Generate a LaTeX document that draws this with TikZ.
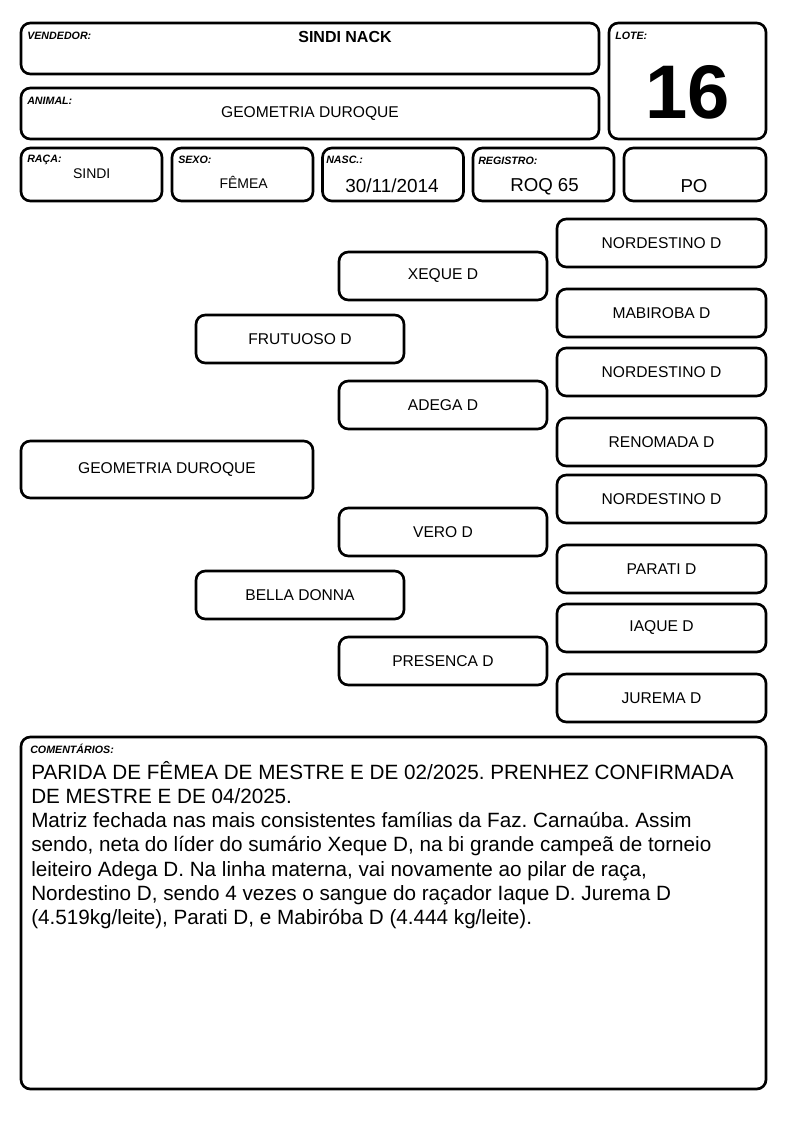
\documentclass[tikz,border=0pt]{standalone}
\usepackage{fontspec}
\setmainfont{Liberation Sans}
\frenchspacing

\tikzset{
  card/.style={draw, line width=2pt, rounded corners=7pt, inner sep=0pt},
  lbl/.style={font=\fontsize{8}{9}\selectfont\bfseries\itshape, anchor=base west, inner sep=0pt},
  val/.style={anchor=base, inner sep=0pt},
  ped/.style={card, minimum width=156pt, minimum height=36pt, font=\fontsize{11.7}{13}\selectfont},
}

\begin{document}
\begin{tikzpicture}[%
      x=0.75pt, y=-0.75pt,
      ]
      \useasboundingbox (0,0) rectangle (794,1123);

      \node [card, minimum width=433.5pt, minimum height=38.25pt] (vendedor) at (310,48.5) {};
      \node [card, minimum width=433.5pt, minimum height=38.25pt, font=\fontsize{11.7}{13}\selectfont] (animal) at (310,113.5) {GEOMETRIA DUROQUE};
      \node [card, minimum width=117.75pt, minimum height=87pt] (lote) at (687.5,81) {};
      \node [card, minimum width=105.75pt, minimum height=39.75pt] (raca) at (91.5,174.5) {};
      \node [card, minimum width=105.75pt, minimum height=39.75pt] (sexo) at (242.5,174.5) {};
      \node [card, minimum width=105.75pt, minimum height=39.75pt] (nasc) at (393,174.5) {};
      \node [card, minimum width=105.75pt, minimum height=39.75pt] (registro) at (543.5,174.5) {};
      \node [card, minimum width=106.5pt, minimum height=39.75pt] (po) at (695,174.5) {};

      \node [lbl] (lvendedor) at (27,40) {VENDEDOR:};
      \node [lbl] (lanimal) at (27,105) {ANIMAL:};
      \node [lbl] (llote) at (615,40) {LOTE:};
      \node [lbl] (lraca) at (27,163) {RAÇA:};
      \node [lbl] (lsexo) at (178,164) {SEXO:};
      \node [lbl] (lnasc) at (326,164) {NASC.:};
      \node [lbl] (lregistro) at (478,165) {REGISTRO:};

      \node [val, font=\fontsize{12}{14}\selectfont\bfseries] (vvendedor) at (345,42.7) {SINDI NACK};
      \node [val, font=\fontsize{57}{60}\selectfont\bfseries] (vlote) at (688,119) {16};
      \node [val, font=\fontsize{10.5}{12}\selectfont] (vraca) at (91.7,178.3) {SINDI};
      \node [val, font=\fontsize{10.5}{12}\selectfont] (vsexo) at (243.7,188.3) {FÊMEA};
      \node [val, font=\fontsize{14.2}{16}\selectfont] (vnasc) at (392,192.7) {30/11/2014};
      \node [val, font=\fontsize{14}{16}\selectfont] (vregistro) at (544.5,191.7) {ROQ 65};
      \node [val, font=\fontsize{14}{16}\selectfont] (vpo) at (694,192.3) {PO};

      \node [ped, minimum width=219pt, minimum height=42.75pt] (animalp) at (167,469.5) {GEOMETRIA DUROQUE};

      \node [ped] (pai) at (300,339) {FRUTUOSO D};
      \node [ped] (mae) at (300,595) {BELLA DONNA};

      \node [ped] (avop) at (443,276) {XEQUE D};
      \node [ped] (avap) at (443,405) {ADEGA D};
      \node [ped] (avom) at (443,532) {VERO D};
      \node [ped] (avam) at (443,661) {PRESENCA D};

      \node [ped, minimum width=156.75pt] (bis1) at (661.5,243) {NORDESTINO D};
      \node [ped, minimum width=156.75pt] (bis2) at (661.5,313) {MABIROBA D};
      \node [ped, minimum width=156.75pt] (bis3) at (661.5,372) {NORDESTINO D};
      \node [ped, minimum width=156.75pt] (bis4) at (661.5,442) {RENOMADA D};
      \node [ped, minimum width=156.75pt] (bis5) at (661.5,499) {NORDESTINO D};
      \node [ped, minimum width=156.75pt] (bis6) at (661.5,569) {PARATI D};
      \node [ped, minimum width=156.75pt] (bis7) at (661.5,628) {IAQUE D};
      \node [ped, minimum width=156.75pt] (bis8) at (661.5,698) {JUREMA D};

      \node [card, minimum width=558.75pt, minimum height=264pt] (coment) at (393.5,913) {};
      \node [lbl] (lcoment) at (30,753.5) {COMENTÁRIOS:};
      \node [anchor=base west, inner sep=0pt, align=left, font=\fontsize{15.5}{18.1}\selectfont] (vcoment) at (31,924.3) {PARIDA DE FÊMEA DE MESTRE E DE 02/2025. PRENHEZ CONFIRMADA\\
        DE MESTRE E DE 04/2025.\\
        Matriz fechada nas mais consistentes famílias da Faz. Carnaúba. Assim\\
        sendo, neta do líder do sumário Xeque D, na bi grande campeã de torneio\\
        leiteiro Adega D. Na linha materna, vai novamente ao pilar de raça,\\
        Nordestino D, sendo 4 vezes o sangue do raçador Iaque D. Jurema D\\
        (4.519kg/leite), Parati D, e Mabiróba D (4.444 kg/leite).};
      \end{tikzpicture}
\end{document}
